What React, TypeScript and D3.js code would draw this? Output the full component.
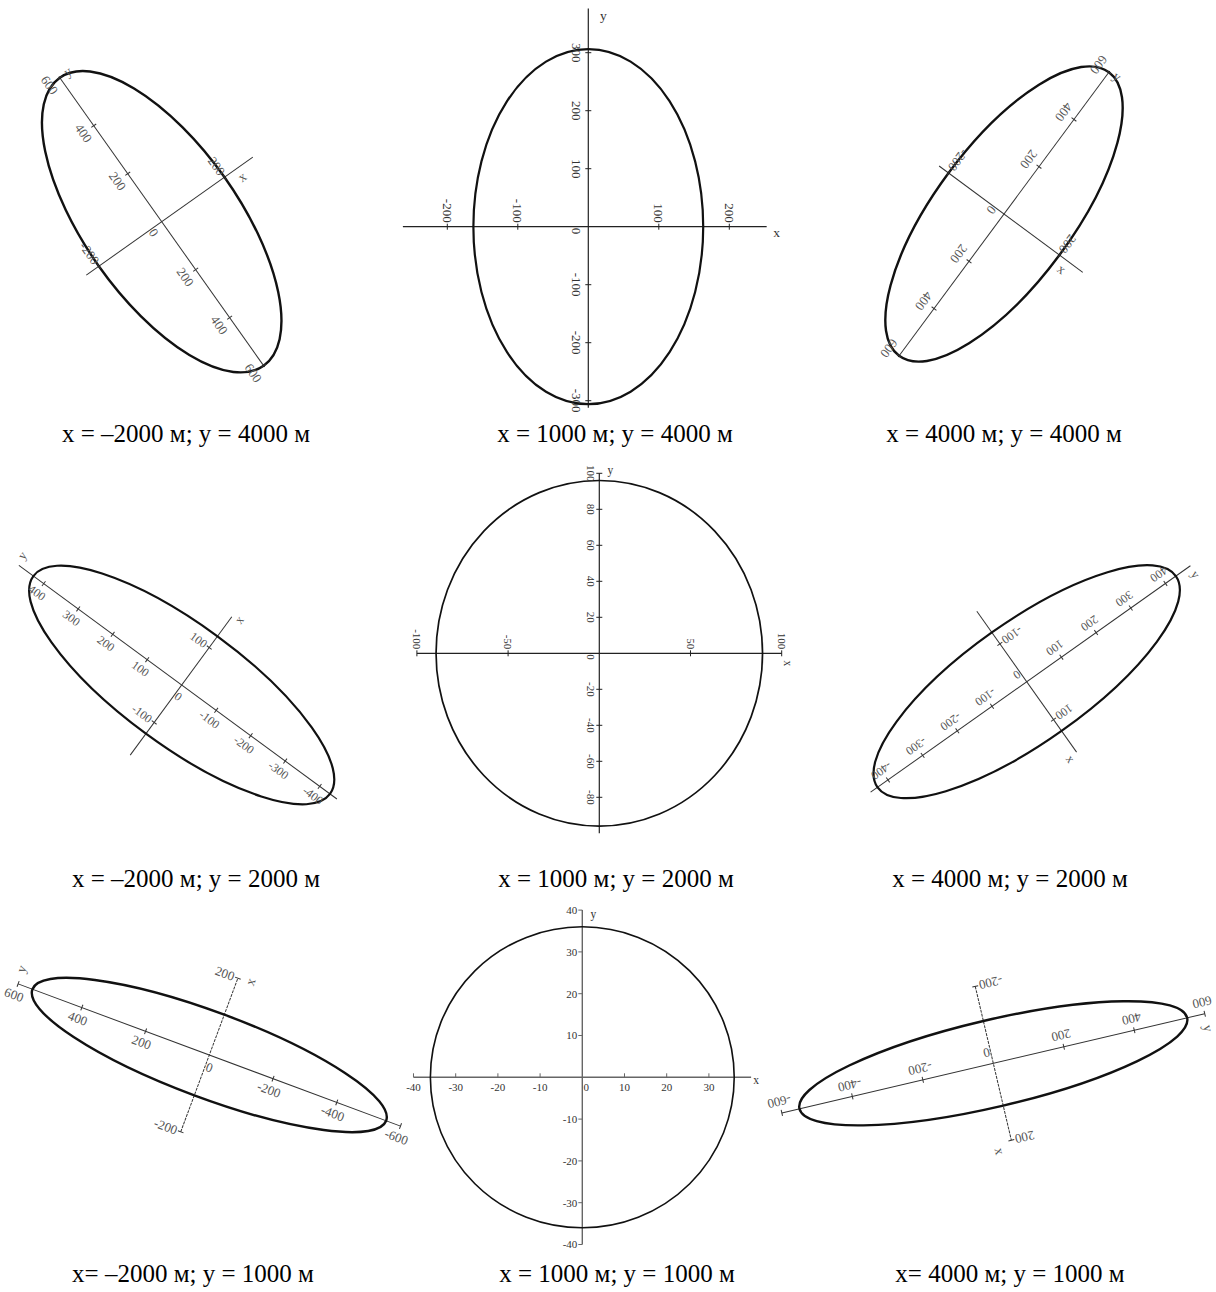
import React from "react";
import * as d3 from "d3";

// ---- data ----
const captions = [
  "x = –2000 м; y = 4000 м",
  "x = 1000 м; y = 4000 м",
  "x = 4000 м; y = 4000 м",
  "x = –2000 м; y = 2000 м",
  "x = 1000 м; y = 2000 м",
  "x = 4000 м; y = 2000 м",
  "x= –2000 м; y = 1000 м",
  "x = 1000 м; y = 1000 м",
  "x= 4000 м; y = 1000 м",
];

// semi-axes of the error ellipses (m)
const semiAxisX = [200, 163, 200, 130, 89.5, 130, 105, 36, 110];
const semiAxisY = [600, 306, 600, 430, 96, 430, 555, 36, 550];

// axis ranges
const xDomains = [
  [-240, 290], [-263, 253], [-234, 284],
  [-187, 182], [-100, 100], [-186, 186],
  [-200, 200], [-40, 40], [-200, 200],
];
const yDomains = [
  [-605, 605], [-312, 376], [-605, 605],
  [-450, 472], [-100, 100], [-450, 472],
  [-600, 600], [-40, 40], [-600, 600],
];

// tick values
const xTickValues = [
  [-200, 200],
  [-200, -100, 100, 200],
  [-200, 200],
  [-100, 100],
  [-100, -50, 50, 100],
  [-100, 100],
  [-200, 200],
  [-40, -30, -20, -10, 0, 10, 20, 30],
  [-200, 200],
];
const yTickValues = [
  [-600, -400, -200, 200, 400, 600],
  [-300, -200, -100, 100, 200, 300],
  [-600, -400, -200, 200, 400, 600],
  [-400, -300, -200, -100, 100, 200, 300, 400],
  [-80, -60, -40, -20, 20, 40, 60, 80, 100],
  [-400, -300, -200, -100, 100, 200, 300, 400],
  [-600, -400, -200, 200, 400, 600],
  [-40, -30, -20, -10, 10, 20, 30, 40],
  [-600, -400, -200, 200, 400, 600],
];

// ---- layout (positions / styles) ----
type Layout = {
  cx: number; cy: number; angle: number; sx: number; sy: number;
  mode: "rot" | "flat"; fs: number; ew: number; aw: number;
  axisColor: string; labelColor: string; dash?: string;
  xLab: [number, number]; yLab: [number, number];
  absY?: boolean; rotX?: boolean; gap: number;
};

const layouts: Layout[] = [
  { cx: 161.7, cy: 221.7, angle: -35.3, sx: 0.385, sy: 0.294, mode: "rot", fs: 13, ew: 2.4, aw: 1, axisColor: "#333", labelColor: "#555", xLab: [-20, 10], yLab: [10, 1], absY: true, gap: 8 },
  { cx: 588.3, cy: 226.7, angle: 0, sx: 0.705, sy: 0.58, mode: "rot", fs: 13, ew: 2.2, aw: 1.2, axisColor: "#222", labelColor: "#333", xLab: [10, 6], yLab: [15, 6.5], gap: 7 },
  { cx: 1004, cy: 214, angle: 36.5, sx: 0.345, sy: 0.294, mode: "rot", fs: 13, ew: 2.4, aw: 1, axisColor: "#333", labelColor: "#555", xLab: [-19, 10], yLab: [9, 0], absY: true, gap: 8 },
  { cx: 181.7, cy: 685, angle: -53.7, sx: 0.465, sy: 0.428, mode: "rot", fs: 12, ew: 2.2, aw: 1, axisColor: "#333", labelColor: "#555", xLab: [2, 8], yLab: [10, -3], gap: 7 },
  { cx: 599.3, cy: 653.3, angle: 0, sx: 1.824, sy: 1.8, mode: "rot", fs: 11, ew: 1.7, aw: 1.2, axisColor: "#222", labelColor: "#333", xLab: [6, 10], yLab: [11, -3], rotX: true, gap: 5 },
  { cx: 1026.7, cy: 681.7, angle: 54.7, sx: 0.464, sy: 0.425, mode: "rot", fs: 12, ew: 2.2, aw: 1, axisColor: "#333", labelColor: "#555", xLab: [2, 9], yLab: [10, 1], gap: 7 },
  { cx: 209.3, cy: 1055, angle: -69.6, sx: 0.41, sy: 0.34, mode: "rot", fs: 13, ew: 2.4, aw: 1, axisColor: "#333", labelColor: "#555", dash: "3 1", xLab: [1, 13], yLab: [15, -2], gap: 7 },
  { cx: 582.3, cy: 1077.3, angle: 0, sx: 4.22, sy: 4.18, mode: "flat", fs: 11, ew: 1.6, aw: 1.4, axisColor: "#666", labelColor: "#333", xLab: [5, 3], yLab: [11, 4], gap: 5 },
  { cx: 993.3, cy: 1063.3, angle: 76.8, sx: 0.395, sy: 0.362, mode: "rot", fs: 13, ew: 2.4, aw: 1, axisColor: "#333", labelColor: "#555", dash: "3 1", xLab: [8, 14], yLab: [15, 0], gap: 7 },
];

const captionX = [186, 615, 1004, 196, 616, 1010, 193, 617, 1010];
const captionY = [441.7, 441.7, 441.7, 886.7, 886.7, 886.7, 1282, 1282, 1282];

const SERIF = "'Liberation Serif', 'Times New Roman', 'DejaVu Serif', serif";

function fmt(v: number, abs?: boolean) {
  const a = abs ? Math.abs(v) : v;
  return a < 0 ? "-" + String(-a) : String(a);
}

function Panel({ i }: { i: number }) {
  const L = layouts[i];
  const x = d3.scaleLinear().domain([0, 100]).range([0, 100 * L.sx]);
  const y = d3.scaleLinear().domain([0, 100]).range([0, -100 * L.sy]);
  const [x0, x1] = xDomains[i];
  const [y0, y1] = yDomains[i];
  const fs = L.fs;
  const xEnd = x(x1);
  const yTop = y(y1);

  return (
    <g transform={`translate(${L.cx},${L.cy}) rotate(${L.angle})`}>
      {/* axes */}
      <line x1={x(x0)} x2={x(x1)} y1={0} y2={0} stroke={L.axisColor} strokeWidth={L.aw} strokeDasharray={L.dash} />
      <line x1={0} x2={0} y1={y(y0)} y2={y(y1)} stroke={L.axisColor} strokeWidth={L.aw} />

      {/* ellipse */}
      <ellipse cx={0} cy={0} rx={x(semiAxisX[i])} ry={-y(semiAxisY[i])} fill="none" stroke="#111" strokeWidth={L.ew} />

      {/* ticks */}
      {xTickValues[i].map((v) => {
        const X = x(v);
        if (L.mode === "rot") {
          return (
            <g key={"xt" + v}>
              <line x1={X} x2={X} y1={-3} y2={3} stroke={L.axisColor} strokeWidth={1} />
              <text transform={`translate(${X - fs * 0.35},${-4}) rotate(90)`} textAnchor="end" fontSize={fs} fontFamily={SERIF} fill={L.labelColor}>
                {fmt(v)}
              </text>
            </g>
          );
        }
        return (
          <g key={"xt" + v}>
            {v !== 0 && <line x1={X} x2={X} y1={0} y2={-4} stroke={L.axisColor} strokeWidth={1} />}
            <text x={v === 0 ? X + 4 : X} y={14} textAnchor="middle" fontSize={fs} fontFamily={SERIF} fill={L.labelColor}>
              {fmt(v)}
            </text>
          </g>
        );
      })}
      {yTickValues[i].map((v) => {
        const Y = y(v);
        if (L.mode === "rot") {
          return (
            <g key={"yt" + v}>
              <line x1={-3} x2={3} y1={Y} y2={Y} stroke={L.axisColor} strokeWidth={1} />
              <text transform={`translate(${-L.gap - fs * 0.7},${Y}) rotate(90)`} textAnchor="middle" fontSize={fs} fontFamily={SERIF} fill={L.labelColor}>
                {fmt(v, L.absY)}
              </text>
            </g>
          );
        }
        return (
          <g key={"yt" + v}>
            <line x1={0} x2={-4} y1={Y} y2={Y} stroke={L.axisColor} strokeWidth={1} />
            <text x={-5} y={Y + fs * 0.35} textAnchor="end" fontSize={fs} fontFamily={SERIF} fill={L.labelColor}>
              {fmt(v)}
            </text>
          </g>
        );
      })}

      {/* origin label */}
      {L.mode === "rot" && (
        <text transform={`translate(${-L.gap - fs * 0.7},${1}) rotate(90)`} textAnchor="start" fontSize={fs} fontFamily={SERIF} fill={L.labelColor}>
          0
        </text>
      )}

      {/* axis names */}
      <text
        transform={`translate(${xEnd + L.xLab[0]},${L.xLab[1]})${L.rotX ? " rotate(90)" : ""}`}
        textAnchor="middle"
        dominantBaseline="central"
        fontSize={fs + 0.5}
        fontFamily={SERIF}
        fill={L.labelColor}
      >
        x
      </text>
      <text
        transform={`translate(${L.yLab[0]},${yTop + L.yLab[1]})`}
        textAnchor="middle"
        dominantBaseline="central"
        fontSize={fs + 0.5}
        fontFamily={SERIF}
        fill={L.labelColor}
      >
        y
      </text>
    </g>
  );
}

export default function App() {
  return (
    <svg
      width={1216}
      height={1292}
      viewBox="0 0 1216 1292"
      style={{ position: "absolute", left: 0, top: 0, display: "block", background: "#fff" }}
    >
      <rect x={0} y={0} width={1216} height={1292} fill="#fff" />
      {layouts.map((_, i) => (
        <Panel key={i} i={i} />
      ))}
      {captions.map((c, i) => (
        <text key={"c" + i} x={captionX[i]} y={captionY[i]} textAnchor="middle" fontSize={25} fontFamily={SERIF} fill="#000">
          {c}
        </text>
      ))}
    </svg>
  );
}
